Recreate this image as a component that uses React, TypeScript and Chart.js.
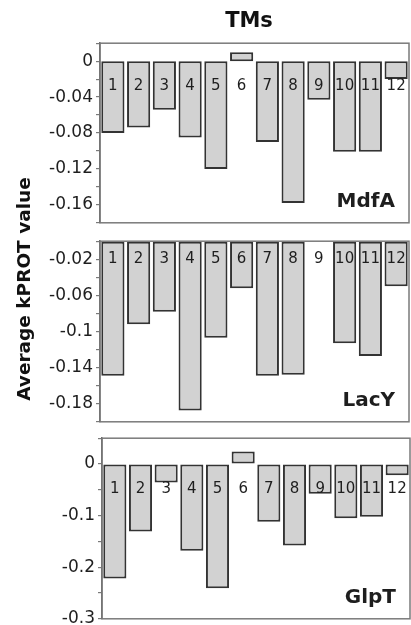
import React, { useEffect, useRef } from 'react';
import { Chart, registerables } from 'chart.js';

Chart.register(...registerables);

// ---- data ----
const categories = ['1', '2', '3', '4', '5', '6', '7', '8', '9', '10', '11', '12'];
const mdfaValues = [-0.08, -0.074, -0.054, -0.085, -0.12, 0.01, -0.09, -0.158, -0.043, -0.101, -0.101, -0.02];
const lacyValues = [-0.149, -0.092, -0.078, -0.1875, -0.107, -0.052, -0.149, -0.148, 0, -0.113, -0.127, -0.05];
const glptValues = [-0.222, -0.131, -0.036, -0.168, -0.241, 0.024, -0.112, -0.158, -0.0575, -0.105, -0.102, -0.022];
const mdfaTickLabels = [0, -0.04, -0.08, -0.12, -0.16];
const lacyTickLabels = [-0.02, -0.06, -0.1, -0.14, -0.18];
const glptTickLabels = [0, -0.1, -0.2, -0.3];
const panelNames = ['MdfA', 'LacY', 'GlpT'];
const titleText = 'TMs';
const yTitleText = 'Average kPROT value';

const FONT = '"DejaVu Sans", "Liberation Sans", Arial, sans-serif';
const PAD = 12;

type Panel = {
  name: string;
  values: number[];
  tickLabels: number[];
  min: number;
  max: number;
  step: number;
  labelValue: number;
  top: number;
  height: number;
  left: number;
  right: number;
};

const panels: Panel[] = [
  { name: panelNames[0], values: mdfaValues, tickLabels: mdfaTickLabels, min: -0.18, max: 0.02, step: 0.02, labelValue: -0.028, top: 42, height: 182, left: 100, right: 409 },
  { name: panelNames[1], values: lacyValues, tickLabels: lacyTickLabels, min: -0.2, max: 0, step: 0.02, labelValue: -0.02, top: 240, height: 183, left: 100, right: 409 },
  { name: panelNames[2], values: glptValues, tickLabels: glptTickLabels, min: -0.3, max: 0.05, step: 0.05, labelValue: -0.048, top: 437, height: 183, left: 102, right: 410 },
];

const decorPlugin = {
  id: 'panelDecor',
  afterDatasetsDraw(chart: any, _args: any, opts: any) {
    const { ctx, chartArea, scales } = chart;
    ctx.save();
    ctx.strokeStyle = '#7a7a7a';
    ctx.lineWidth = 1.5;
    ctx.strokeRect(chartArea.left, chartArea.top, chartArea.right - chartArea.left, chartArea.bottom - chartArea.top);
    ctx.fillStyle = '#1e1e1e';
    ctx.font = `15px ${FONT}`;
    ctx.textAlign = 'center';
    ctx.textBaseline = 'middle';
    const y = scales.y.getPixelForValue(opts.labelValue);
    (chart.data.labels as string[]).forEach((l, i) => {
      ctx.fillText(l, scales.x.getPixelForValue(i), y);
    });
    ctx.font = `bold 20px ${FONT}`;
    ctx.textAlign = 'right';
    ctx.textBaseline = 'alphabetic';
    ctx.fillText(opts.name, chartArea.right - 14, chartArea.bottom - 16);
    ctx.restore();
  },
};

function PanelChart({ p }: { p: Panel }) {
  const ref = useRef<HTMLCanvasElement>(null);
  useEffect(() => {
    if (!ref.current) return;
    const chart = new Chart(ref.current, {
      type: 'bar',
      data: {
        labels: categories,
        datasets: [
          {
            data: p.values,
            backgroundColor: '#d2d2d2',
            borderColor: '#333333',
            borderWidth: 2,
            borderSkipped: false,
            barPercentage: 0.9,
            categoryPercentage: 1.0,
          },
        ],
      },
      options: {
        responsive: false,
        animation: false,
        devicePixelRatio: 1,
        layout: { padding: { top: PAD, bottom: PAD, left: 0, right: 411 - p.right } },
        plugins: {
          legend: { display: false },
          tooltip: { enabled: false },
          title: { display: false },
          panelDecor: { labelValue: p.labelValue, name: p.name },
        } as any,
        scales: {
          x: { display: false },
          y: {
            min: p.min,
            max: p.max,
            afterFit: (s: any) => {
              s.width = p.left;
            },
            ticks: {
              stepSize: p.step,
              autoSkip: false,
              padding: 3,
              color: '#1e1e1e',
              font: { family: FONT, size: 17 },
              callback: (v: any) => {
                const r = Math.round(Number(v) * 1000) / 1000;
                return p.tickLabels.some((t) => Math.abs(t - r) < 1e-9) ? String(r === 0 ? 0 : r) : '';
              },
            },
            grid: { drawOnChartArea: false, tickLength: 4, color: '#7a7a7a', lineWidth: 1.2 },
            border: { display: true, color: '#666666', width: 1.5 },
          },
        },
      },
      plugins: [decorPlugin],
    });
    return () => chart.destroy();
  }, [p]);
  const h = p.height + PAD * 2;
  return (
    <canvas
      ref={ref}
      width={411}
      height={h}
      style={{ position: 'absolute', left: 0, top: p.top - PAD, width: 411, height: h }}
    />
  );
}

export default function App() {
  return (
    <div
      style={{
        position: 'absolute',
        left: 0,
        top: 0,
        width: 411,
        height: 625,
        overflow: 'hidden',
        background: '#ffffff',
      }}
    >
      {panels.map((p) => (
        <PanelChart key={p.name} p={p} />
      ))}
      <div
        style={{
          position: 'absolute',
          left: 149,
          width: 200,
          top: 7,
          textAlign: 'center',
          fontFamily: FONT,
          fontWeight: 'bold',
          fontSize: 21,
          lineHeight: '26px',
          color: '#111',
        }}
      >
        {titleText}
      </div>
      <div
        style={{
          position: 'absolute',
          left: 24 - 150,
          top: 289 - 12,
          width: 300,
          height: 24,
          lineHeight: '24px',
          textAlign: 'center',
          fontFamily: FONT,
          fontWeight: 'bold',
          fontSize: 18.5,
          color: '#111',
          transform: 'rotate(-90deg)',
          whiteSpace: 'nowrap',
        }}
      >
        {yTitleText}
      </div>
    </div>
  );
}
